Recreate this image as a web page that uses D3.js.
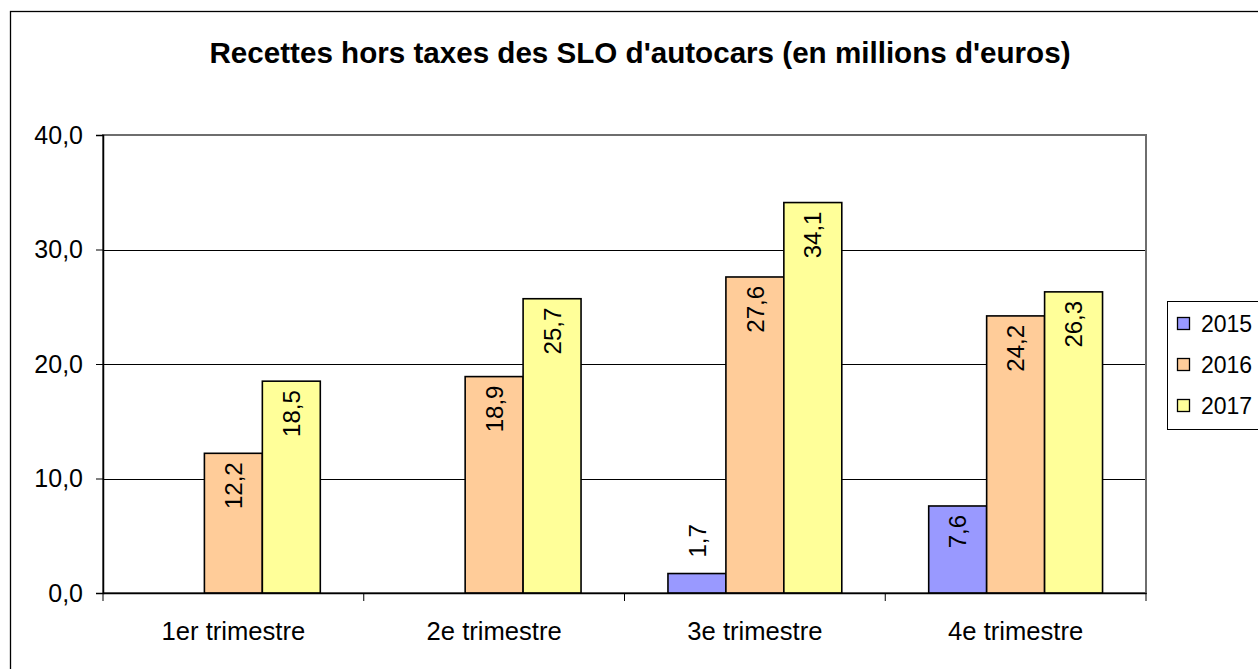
<!DOCTYPE html>
<html>
<head>
<meta charset="utf-8">
<script src="https://cdn.jsdelivr.net/npm/d3@7"></script>
<style>
  body { margin: 0; background: #fff; }
  svg { display: block; font-family: "Liberation Sans", Arial, sans-serif; }
</style>
</head>
<body>
<svg id="chart" width="1258" height="669"></svg>
<script>
const categories = ["1er trimestre", "2e trimestre", "3e trimestre", "4e trimestre"];
const seriesNames = ["2015", "2016", "2017"];
const values2015 = [null, null, 1.7, 7.6];
const values2016 = [12.2, 18.9, 27.6, 24.2];
const values2017 = [18.5, 25.7, 34.1, 26.3];
const yTicks = [0, 10, 20, 30, 40];
const colors = ["#9999ff", "#ffcc99", "#ffff99"];
const title = "Recettes hors taxes des SLO d'autocars (en millions d'euros)";

const seriesValues = [values2015, values2016, values2017];

const svg = d3.select("#chart"),
      margin = { top: 135, left: 103 },
      width = 1146 - margin.left,
      height = 593 - margin.top;

const fr = d3.formatLocale({ decimal: ",", thousands: " ", grouping: [3], currency: ["", " €"] });
const fmt = fr.format(".1f");

// outer frame (runs off the page on the right and bottom)
svg.append("rect")
  .attr("x", 10.5).attr("y", 11.5)
  .attr("width", 1300).attr("height", 700)
  .attr("fill", "none").attr("stroke", "#000").attr("stroke-width", 1.3);

svg.append("text")
  .attr("x", 640).attr("y", 63)
  .attr("text-anchor", "middle")
  .attr("font-size", "29.6px")
  .attr("font-weight", "bold")
  .text(title);

const g = svg.append("g")
  .attr("transform", `translate(${margin.left},${margin.top})`);

const x0 = d3.scaleBand().domain(categories).range([0, width]);
const x1 = d3.scaleBand().domain(seriesNames).range([0, x0.bandwidth()]).paddingOuter(0.75);
const y = d3.scaleLinear().domain([0, 40]).range([height, 0]);

// gridlines
g.append("g")
  .selectAll("line")
  .data(yTicks)
  .join("line")
  .attr("x1", 0).attr("x2", width)
  .attr("y1", d => Math.round(y(d)) + 0.5).attr("y2", d => Math.round(y(d)) + 0.5)
  .attr("stroke", "#000").attr("stroke-width", 1);

// plot border
g.append("rect")
  .attr("x", 0).attr("y", 0)
  .attr("width", width).attr("height", height)
  .attr("fill", "none").attr("stroke", "#6e6e6e").attr("stroke-width", 2);

// bars
const rows = [];
categories.forEach((c, i) => {
  seriesNames.forEach((s, j) => {
    const v = seriesValues[j][i];
    if (v != null) rows.push({ cat: c, s: s, j: j, v: v });
  });
});

g.append("g")
  .selectAll("rect")
  .data(rows)
  .join("rect")
  .attr("x", d => x0(d.cat) + x1(d.s))
  .attr("y", d => y(d.v))
  .attr("width", x1.bandwidth())
  .attr("height", d => height - y(d.v))
  .attr("fill", d => colors[d.j])
  .attr("stroke", "#000")
  .attr("stroke-width", 1.6);

// data labels, rotated
g.append("g")
  .selectAll("text")
  .data(rows)
  .join("text")
  .attr("transform", d => {
    const cx = x0(d.cat) + x1(d.s) + x1.bandwidth() / 2;
    const inside = (height - y(d.v)) > 60;
    const ty = inside ? y(d.v) + 9 : y(d.v) - 16;
    return `translate(${cx},${ty}) rotate(-90)`;
  })
  .attr("text-anchor", d => (height - y(d.v)) > 60 ? "end" : "start")
  .attr("dy", "0.36em")
  .attr("font-size", "24px")
  .text(d => fmt(d.v));

// y axis
const yAxis = g.append("g")
  .call(d3.axisLeft(y).tickValues(yTicks).tickSize(7).tickPadding(13).tickFormat(fmt));
yAxis.select(".domain").attr("stroke", "#000").attr("stroke-width", 1.5);
yAxis.selectAll("text").attr("font-size", "25px").attr("font-family", "Liberation Sans, Arial, sans-serif").attr("fill", "#000");

// x axis
const xAxis = g.append("g")
  .attr("transform", `translate(0,${height})`)
  .call(d3.axisBottom(x0).tickSize(0).tickPadding(29));
xAxis.select(".domain").attr("stroke", "#000").attr("stroke-width", 1.5);
xAxis.selectAll("text").attr("font-size", "25.6px").attr("font-family", "Liberation Sans, Arial, sans-serif").attr("fill", "#000");

// category separators
xAxis.selectAll(".sep")
  .data(categories.map(c => x0(c)).concat([width]))
  .join("line")
  .attr("class", "sep")
  .attr("x1", d => d).attr("x2", d => d)
  .attr("y1", 0).attr("y2", 8)
  .attr("stroke", "#000");

// legend
const legend = svg.append("g").attr("transform", "translate(1167,301)");
legend.append("rect")
  .attr("x", 0.5).attr("y", 0.5)
  .attr("width", 120).attr("height", 128)
  .attr("fill", "#fff").attr("stroke", "#000");

const item = legend.selectAll(".item")
  .data(seriesNames)
  .join("g")
  .attr("class", "item")
  .attr("transform", (d, i) => `translate(0,${23 + i * 41})`);

item.append("rect")
  .attr("x", 10.5).attr("y", -6.5)
  .attr("width", 12).attr("height", 12)
  .attr("fill", (d, i) => colors[i])
  .attr("stroke", "#000").attr("stroke-width", 1.3);

item.append("text")
  .attr("x", 34).attr("dy", "0.36em")
  .attr("font-size", "23px")
  .text(d => d);
</script>
</body>
</html>
